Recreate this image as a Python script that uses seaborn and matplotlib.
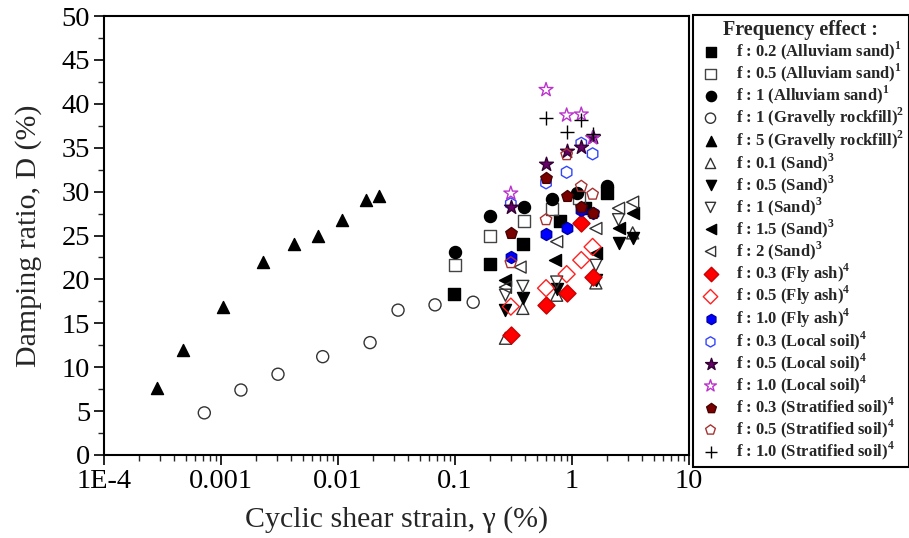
import numpy as np
import pandas as pd
import matplotlib
matplotlib.use("Agg")
import matplotlib.pyplot as plt
from matplotlib.lines import Line2D
import seaborn as sns

sns.set_style("ticks")
plt.rcParams['font.family'] = ['Liberation Serif', 'DejaVu Serif']
plt.rcParams['mathtext.fontset'] = 'custom'
plt.rcParams['mathtext.rm'] = 'Liberation Serif'
plt.rcParams['mathtext.bf'] = 'Liberation Serif:bold'

# ---------------- data ----------------
alluv_02_x = [0.098, 0.2, 0.38, 0.79, 1.3, 2.0]
alluv_02_y = [18.3, 21.8, 24.0, 26.6, 28.1, 29.8]
alluv_05_x = [0.1, 0.2, 0.39, 0.68, 1.15]
alluv_05_y = [21.6, 24.9, 26.6, 28.0, 29.3]
alluv_1_x = [0.1, 0.2, 0.39, 0.68, 1.1, 2.0]
alluv_1_y = [23.1, 27.2, 28.2, 29.2, 29.8, 30.6]
grav_1_x = [7.2e-4, 1.48e-3, 3.07e-3, 7.4e-3, 0.0188, 0.0326, 0.0675, 0.143]
grav_1_y = [4.8, 7.4, 9.2, 11.2, 12.8, 16.5, 17.1, 17.4]
grav_5_x = [2.84e-4, 4.7e-4, 1.04e-3, 2.3e-3, 4.2e-3, 6.7e-3, 0.0108, 0.0173, 0.0224]
grav_5_y = [7.6, 12.0, 16.9, 22.0, 24.0, 25.0, 26.8, 29.0, 29.5]
sand_01_x = [0.27, 0.38, 0.74, 1.6, 3.3]
sand_01_y = [13.3, 16.7, 18.2, 19.6, 25.3]
sand_05_x = [0.27, 0.38, 0.74, 1.6, 2.5, 3.3]
sand_05_y = [16.5, 17.9, 18.9, 19.9, 24.1, 24.7]
sand_1_x = [0.27, 0.38, 0.74, 1.6, 2.5]
sand_1_y = [18.2, 19.2, 19.7, 21.6, 26.8]
sand_15_x = [0.27, 0.72, 1.6, 2.5, 3.3]
sand_15_y = [19.9, 22.2, 23.0, 25.8, 27.6]
sand_2_x = [0.27, 0.36, 0.74, 1.6, 2.5, 3.3]
sand_2_y = [19.1, 21.4, 24.3, 25.8, 28.1, 28.8]
strain4 = [0.3, 0.6, 0.9, 1.2, 1.5]
fly_03_y = [13.7, 17.1, 18.5, 26.4, 20.3]
fly_05_y = [16.9, 19.0, 20.6, 22.2, 23.7]
fly_10_y = [22.6, 25.2, 25.8, 27.9, 27.6]
loc_03_y = [28.6, 31.0, 32.2, 35.5, 34.3]
loc_05_y = [28.3, 33.1, 34.6, 35.1, 36.2]
loc_10_y = [29.8, 41.6, 38.7, 38.8, 36.1]
strat_03_y = [25.3, 31.5, 29.5, 28.2, 27.6]
strat_05_y = [21.9, 26.8, 34.2, 30.6, 29.7]
strat_10_x = [0.6, 0.9, 1.2, 1.5]
strat_10_y = [38.4, 36.8, 38.2, 36.6]

x_ticks = [1e-4, 1e-3, 1e-2, 1e-1, 1, 10]
x_ticklabels = ["1E-4", "0.001", "0.01", "0.1", "1", "10"]

def sup(s, n):
    return s + r"$^{\mathbf{" + str(n) + "}}$"

series = [
    (alluv_02_x, alluv_02_y, sup("f : 0.2 (Alluviam sand)", 1), 's', 'black', 'black'),
    (alluv_05_x, alluv_05_y, sup("f : 0.5 (Alluviam sand)", 1), 's', 'none', '#444444'),
    (alluv_1_x, alluv_1_y, sup("f : 1 (Alluviam sand)", 1), 'o', 'black', 'black'),
    (grav_1_x, grav_1_y, sup("f : 1 (Gravelly rockfill)", 2), 'o', 'none', '#333333'),
    (grav_5_x, grav_5_y, sup("f : 5 (Gravelly rockfill)", 2), '^', 'black', 'black'),
    (sand_01_x, sand_01_y, sup("f : 0.1 (Sand)", 3), '^', 'none', '#333333'),
    (sand_05_x, sand_05_y, sup("f : 0.5 (Sand)", 3), 'v', 'black', 'black'),
    (sand_1_x, sand_1_y, sup("f : 1 (Sand)", 3), 'v', 'none', '#333333'),
    (sand_15_x, sand_15_y, sup("f : 1.5 (Sand)", 3), '<', 'black', 'black'),
    (sand_2_x, sand_2_y, sup("f : 2 (Sand)", 3), '<', 'none', '#333333'),
    (strain4, fly_03_y, sup("f : 0.3 (Fly ash)", 4), 'D', '#FF0000', '#CC0000'),
    (strain4, fly_05_y, sup("f : 0.5 (Fly ash)", 4), 'D', 'none', '#FF2020'),
    (strain4, fly_10_y, sup("f : 1.0 (Fly ash)", 4), 'h', '#0000FF', '#0000AA'),
    (strain4, loc_03_y, sup("f : 0.3 (Local soil)", 4), 'h', 'none', '#3344FF'),
    (strain4, loc_05_y, sup("f : 0.5 (Local soil)", 4), '*', '#66006A', '#330033'),
    (strain4, loc_10_y, sup("f : 1.0 (Local soil)", 4), '*', 'none', '#BB33CC'),
    (strain4, strat_03_y, sup("f : 0.3 (Stratified soil)", 4), 'p', '#7A0000', '#4A0000'),
    (strain4, strat_05_y, sup("f : 0.5 (Stratified soil)", 4), 'p', 'none', '#A83232'),
    (strat_10_x, strat_10_y, sup("f : 1.0 (Stratified soil)", 4), '+', 'black', 'black'),
]

fig = plt.figure(figsize=(9.09, 5.38), dpi=100)
ax = fig.add_axes([104/909, 1-455/538, (689-104)/909, (455-16)/538])

for xs, ys, lab, mk, fc, ec in series:
    df = pd.DataFrame({"x": xs, "y": ys})
    size = 110 if mk in ('*', '+') else 75
    if mk == '+':
        sns.scatterplot(data=df, x="x", y="y", ax=ax, marker=mk, s=size,
                        color='black', linewidth=1.0, label=lab)
    else:
        sns.scatterplot(data=df, x="x", y="y", ax=ax, marker=mk, s=size,
                        facecolor=fc, edgecolor=ec, linewidth=1.0, label=lab)

ax.set_xscale('log')
ax.set_xlim(1e-4, 10)
ax.set_ylim(0, 50)
ax.set_xticks(x_ticks)
ax.set_xticklabels(x_ticklabels)
ax.set_yticks(np.arange(0, 51, 5))
ax.yaxis.set_minor_locator(matplotlib.ticker.MultipleLocator(2.5))
ax.tick_params(axis='both', which='major', direction='out', length=7, width=1.2,
               labelsize=20.5, colors='black', pad=3)
ax.tick_params(axis='both', which='minor', direction='out', length=4, width=1.0)
for sp in ax.spines.values():
    sp.set_visible(True)
    sp.set_linewidth(1.5)
    sp.set_color('black')
ax.set_xlabel("Cyclic shear strain, γ (%)", fontsize=21.5, labelpad=9)
ax.set_ylabel("Damping ratio, D (%)", fontsize=21.5, labelpad=14)

ax.get_legend().remove()
handles, labels = ax.get_legend_handles_labels()
leg = fig.legend(handles, labels, loc='upper left', bbox_to_anchor=(693/909, 1-15/538),
                 bbox_transform=fig.transFigure, frameon=True, fancybox=False,
                 edgecolor='black', framealpha=1, borderaxespad=0, borderpad=0.3,
                 handlelength=1.5, handletextpad=0.75, labelspacing=-0.03,
                 markerscale=0.85, prop={'weight': 'bold', 'size': 12},
                 title="Frequency effect :",
                 title_fontproperties={'weight': 'bold', 'size': 14.5})
leg.get_frame().set_linewidth(1.5)

fig.canvas.draw()
tb = leg.get_title().get_window_extent(fig.canvas.get_renderer())
inv = fig.transFigure.inverted()
(x0, y0), (x1, y1) = inv.transform([(tb.x0, tb.y0), (tb.x1, tb.y1)])
fig.add_artist(Line2D([x0, x1], [y0 + 0.002, y0 + 0.002], transform=fig.transFigure,
                      color='black', linewidth=1.2))

fig.savefig("out.png", dpi=100)
